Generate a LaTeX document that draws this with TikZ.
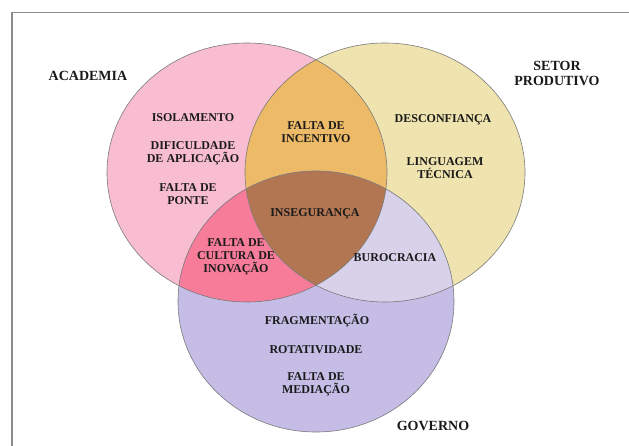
\documentclass[tikz,border=0pt]{standalone}
\usepackage{fontspec}
\setmainfont{Liberation Serif}
\definecolor{acadc}{HTML}{F9BDD2}
\definecolor{setorc}{HTML}{EFE3AF}
\definecolor{govc}{HTML}{C5BDE6}
\definecolor{asc}{HTML}{EDBA68}
\definecolor{agc}{HTML}{F77C99}
\definecolor{sgc}{HTML}{D7D1EA}
\definecolor{allc}{HTML}{B37652}
\definecolor{edgegray}{HTML}{7A7A7A}
\definecolor{framegray}{HTML}{8C8C8C}
\definecolor{txt}{HTML}{1A1A1A}
\begin{document}
\begin{tikzpicture}[x=1pt,y=-1pt,
  inner/.style={font=\fontsize{12}{13}\selectfont\bfseries, align=center, text=txt, inner sep=0pt},
  cat/.style={font=\fontsize{14}{15}\selectfont\bfseries, align=center, text=txt, inner sep=0pt},
  outline/.style={draw=edgegray, line width=0.6pt}]
\useasboundingbox (0,0) rectangle (629,446);
\def\acad{(247,172.5) ellipse [x radius=140pt, y radius=129.5pt]}
\def\setor{(385,172.5) ellipse [x radius=140pt, y radius=129.5pt]}
\def\gov{(316,301.5) ellipse [x radius=138pt, y radius=130.5pt]}
% frame
\draw[framegray, line width=1.4pt] (12,446) -- (12,12.5) -- (629,12.5);
% base fills
\fill[acadc] \acad;
\fill[setorc] \setor;
\fill[govc] \gov;
% pairwise intersections
\begin{scope}\clip \acad; \fill[asc] \setor; \fill[agc] \gov; \end{scope}
\begin{scope}\clip \setor; \fill[sgc] \gov; \end{scope}
\begin{scope}\clip \acad; \clip \setor; \fill[allc] \gov; \end{scope}
% outlines
\draw[outline] \acad;
\draw[outline] \setor;
\draw[outline] \gov;
% category labels
\node[cat] (acadLabel) at (88,76) {ACADEMIA};
\node[cat] (setorLabel) at (557,73.5) {SETOR\\PRODUTIVO};
\node[cat] (govLabel) at (433,426) {GOVERNO};
% academia
\node[inner] (isol) at (193,118) {ISOLAMENTO};
\node[inner] (dific) at (193,153.5) {DIFICULDADE\\DE APLICAÇÃO};
\node[inner] (ponte) at (188,194) {FALTA DE\\PONTE};
% academia & setor
\node[inner] (incent) at (316,132) {FALTA DE\\INCENTIVO};
% all
\node[inner] (inseg) at (315,214) {INSEGURANÇA};
% setor
\node[inner] (desconf) at (443,120) {DESCONFIANÇA};
\node[inner] (ling) at (445,168) {LINGUAGEM\\TÉCNICA};
% academia & governo
\node[inner] (cultura) at (236,256.5) {FALTA DE\\CULTURA DE\\INOVAÇÃO};
% setor & governo
\node[inner] (buro) at (395,258) {BUROCRACIA};
% governo
\node[inner] (frag) at (317,321) {FRAGMENTAÇÃO};
\node[inner] (rotat) at (316,350) {ROTATIVIDADE};
\node[inner] (mediac) at (316,384.5) {FALTA DE\\MEDIAÇÃO};
\end{tikzpicture}
\end{document}
